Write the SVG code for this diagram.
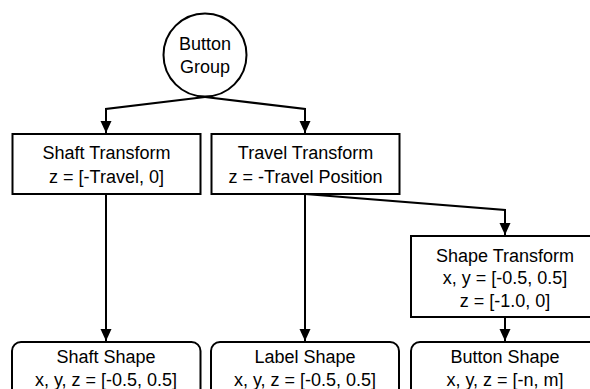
<svg xmlns="http://www.w3.org/2000/svg" width="590" height="389" viewBox="0 0 590 389">
  <style>
    .box { fill: #fff; stroke: #000; stroke-width: 2; }
    .edge { fill: none; stroke: #000; stroke-width: 2; }
    text { font-family: "Liberation Sans", Arial, Helvetica, sans-serif; font-size: 18px; fill: #000; text-anchor: middle; }
  </style>
  <defs>
    <marker id="arrow" markerUnits="userSpaceOnUse" markerWidth="12" markerHeight="14" refX="12" refY="5.5" orient="auto">
      <path d="M0,0 L12,5.5 L0,11 Z" fill="#000"/>
    </marker>
  </defs>
  <rect width="590" height="389" fill="#fff"/>

  <g id="connectors">
    <polyline class="edge" points="205,97 106,109 106,133" marker-end="url(#arrow)"/>
    <polyline class="edge" points="205,97 305,109 305,133" marker-end="url(#arrow)"/>
    <polyline class="edge" points="106,194 106,341" marker-end="url(#arrow)"/>
    <polyline class="edge" points="305,194 305,341" marker-end="url(#arrow)"/>
    <polyline class="edge" points="305,194 505,210 505,235" marker-end="url(#arrow)"/>
    <polyline class="edge" points="505,317 505,341" marker-end="url(#arrow)"/>
  </g>

  <g id="button-group">
    <circle class="box" cx="205" cy="55" r="41.5"/>
    <text x="205" y="49.5">Button</text>
    <text x="205" y="73">Group</text>
  </g>

  <g id="shaft-transform">
    <rect class="box" x="12.5" y="134" width="188" height="60"/>
    <text x="106.5" y="159">Shaft Transform</text>
    <text x="106.5" y="183">z = [-Travel, 0]</text>
  </g>

  <g id="travel-transform">
    <rect class="box" x="211.5" y="134" width="188" height="60"/>
    <text x="305.5" y="159">Travel Transform</text>
    <text x="305.5" y="183">z = -Travel Position</text>
  </g>

  <g id="shape-transform">
    <rect class="box" x="411" y="236" width="188" height="81"/>
    <text x="505" y="261.5">Shape Transform</text>
    <text x="505" y="284">x, y = [-0.5, 0.5]</text>
    <text x="505" y="307">z = [-1.0, 0]</text>
  </g>

  <g id="shaft-shape">
    <rect class="box" x="12" y="342" width="188.5" height="62" rx="9"/>
    <text x="106" y="362.5">Shaft Shape</text>
    <text x="106" y="385.5">x, y, z = [-0.5, 0.5]</text>
  </g>

  <g id="label-shape">
    <rect class="box" x="211" y="342" width="188" height="62" rx="9"/>
    <text x="305" y="362.5">Label Shape</text>
    <text x="305" y="385.5">x, y, z = [-0.5, 0.5]</text>
  </g>

  <g id="button-shape">
    <rect class="box" x="411" y="342" width="188" height="62" rx="9"/>
    <text x="505" y="362.5">Button Shape</text>
    <text x="505" y="385.5">x, y, z = [-n, m]</text>
  </g>
</svg>
